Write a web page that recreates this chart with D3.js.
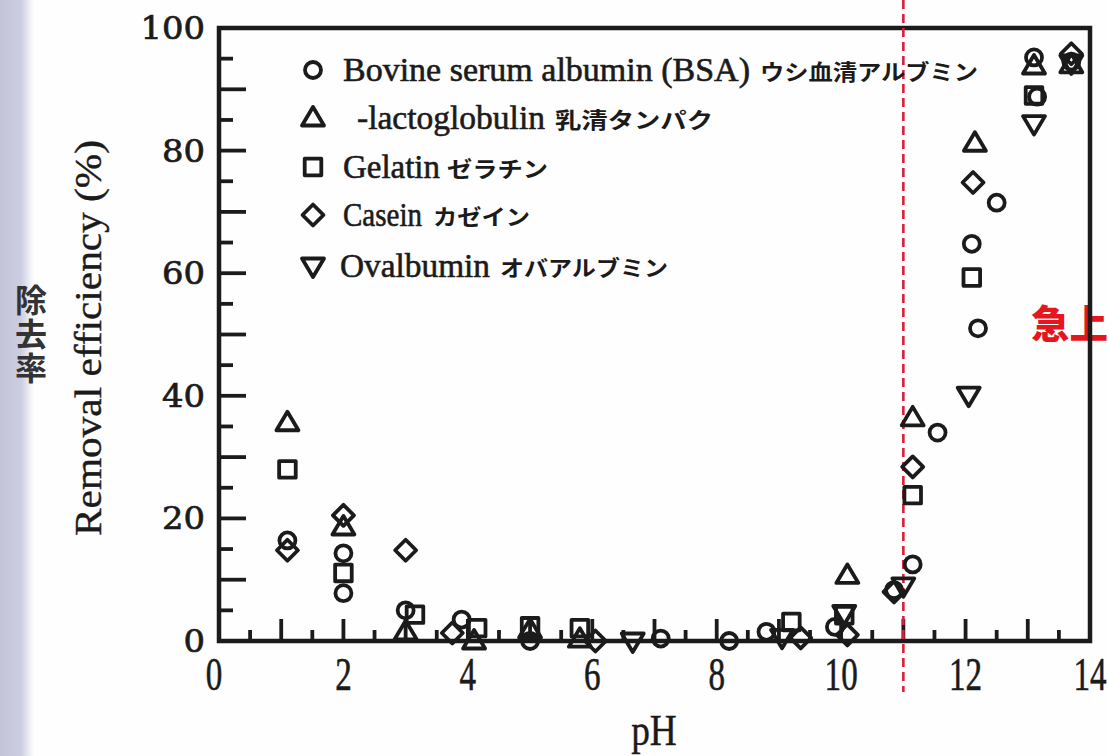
<!DOCTYPE html>
<html><head><meta charset="utf-8">
<script src="https://cdn.jsdelivr.net/npm/d3@7"></script>
<style>body{margin:0;background:#fff;} svg{display:block;}</style>
</head><body><svg id="c" width="1108" height="756"></svg>
<script>
// ---- data ----
const xTickLabels = [0, 2, 4, 6, 8, 10, 12, 14];
const yTickLabels = [0, 20, 40, 60, 80, 100];
const legendEn = ["Bovine serum albumin (BSA)", "-lactoglobulin", "Gelatin", "Casein", "Ovalbumin"];
const legendJa = ["ウシ血清アルブミン", "乳清タンパク", "ゼラチン", "カゼイン", "オバアルブミン"];
const bsa = [[1.1,16.4],[2.0,14.3],[2.0,7.8],[3.0,5.0],[3.9,3.5],[5.0,0],[7.1,0.4],[8.2,0],[8.8,1.5],[9.9,2.3],[10.85,8.3],[11.15,12.5],[11.55,34],[12.1,64.8],[12.2,51],[12.5,71.5],[13.1,95.2],[13.15,88.8],[13.7,94.5]];
const lactoglobulin = [[1.1,35.6],[2.0,18.6],[3.0,1.5],[4.1,0],[5.0,1.8],[5.8,0.3],[10.1,10.7],[11.15,36.4],[12.15,81.2],[13.1,93.8],[13.7,94]];
const gelatin = [[1.1,28],[2.0,11.1],[3.15,4.3],[4.15,2.1],[5.0,2.4],[5.8,2.1],[9.2,3.1],[10.05,4.2],[11.15,23.8],[12.1,59.3],[13.1,89]];
const casein = [[1.1,14.8],[2.0,20.5],[3.0,14.8],[3.75,1.3],[6.05,0],[9.35,0.5],[10.1,1.0],[10.85,8.0],[11.15,28.4],[12.12,74.8],[13.7,95.8]];
const ovalbumin = [[6.65,0],[9.05,0.6],[10.05,4.5],[11.0,9.0],[12.05,40.1],[13.1,84.4],[13.7,94.3]];
const thresholdPH = 11;
const annotation = "急上";
const yTitleJa = "除去率";

// ---- layout ----
const svg = d3.select("#c");
const x = d3.scaleLinear().domain([0, 14]).range([219, 1090]);
const y = d3.scaleLinear().domain([0, 100]).range([641, 28]);
const ink = "#1b1b1b";

// background scan strip
const defs = svg.append("defs");
const g = defs.append("linearGradient").attr("id","strip").attr("x1","0").attr("x2","1");
g.append("stop").attr("offset","0").attr("stop-color","#c3c4d8");
g.append("stop").attr("offset","0.62").attr("stop-color","#cccde0");
g.append("stop").attr("offset","1").attr("stop-color","#ffffff");
svg.append("rect").attr("width",1108).attr("height",756).attr("fill","#fefefe");
svg.append("rect").attr("x",0).attr("y",0).attr("width",34).attr("height",756).attr("fill","url(#strip)");

// symbol types
const sym = {
  circle: {draw(c){ c.moveTo(8,0); c.arc(0,0,8,0,2*Math.PI); }},
  up: {draw(c){ c.moveTo(0,-11); c.lineTo(11,7.5); c.lineTo(-11,7.5); c.closePath(); }},
  square: {draw(c){ c.moveTo(-8.3,-8.3); c.lineTo(8.3,-8.3); c.lineTo(8.3,8.3); c.lineTo(-8.3,8.3); c.closePath(); }},
  diamond: {draw(c){ c.moveTo(0,-10.5); c.lineTo(10.5,0); c.lineTo(0,10.5); c.lineTo(-10.5,0); c.closePath(); }},
  down: {draw(c){ c.moveTo(0,11); c.lineTo(11,-7.5); c.lineTo(-11,-7.5); c.closePath(); }}
};
const seriesList = [
  {data: bsa, type: sym.circle},
  {data: lactoglobulin, type: sym.up},
  {data: gelatin, type: sym.square},
  {data: casein, type: sym.diamond},
  {data: ovalbumin, type: sym.down}
];

// red annotation text (behind frame)
svg.append("text").attr("x", 1031).attr("y", 338)
  .attr("font-family","'Noto Sans CJK JP'").attr("font-weight",900).attr("font-size",38.5)
  .attr("fill","#e6161e").text(annotation);

// ticks (inward)
const tickG = svg.append("g").attr("stroke", ink).attr("stroke-width", 3.8);
const xMajor = d3.range(1, 14, 1), xMinor = d3.range(0.5, 14, 1);
tickG.selectAll(".xM").data(xMajor).join("line")
  .attr("x1", d=>x(d)).attr("x2", d=>x(d)).attr("y1", y(0)).attr("y2", y(0)-22);
tickG.selectAll(".xm").data(xMinor).join("line")
  .attr("x1", d=>x(d)).attr("x2", d=>x(d)).attr("y1", y(0)).attr("y2", y(0)-11);
const yMajor = d3.range(10, 100, 10), yMinor = d3.range(5, 100, 10);
tickG.selectAll(".yM").data(yMajor).join("line")
  .attr("x1", x(0)).attr("x2", x(0)+27).attr("y1", d=>y(d)).attr("y2", d=>y(d));
tickG.selectAll(".ym").data(yMinor).join("line")
  .attr("x1", x(0)).attr("x2", x(0)+14).attr("y1", d=>y(d)).attr("y2", d=>y(d));

// frame
svg.append("rect").attr("x", x(0)).attr("y", y(100)).attr("width", x(14)-x(0)).attr("height", y(0)-y(100))
  .attr("fill","none").attr("stroke", ink).attr("stroke-width", 4.5);

// red dashed line
svg.append("line").attr("x1", x(thresholdPH)).attr("x2", x(thresholdPH)).attr("y1", 0).attr("y2", 692)
  .attr("stroke","#d8203c").attr("stroke-width",2.6).attr("stroke-dasharray","9,5");

// tick labels
svg.selectAll(".yl").data(yTickLabels).join("text")
  .attr("x", 205).attr("y", d=>y(d)+11).attr("text-anchor","end")
  .attr("font-family","'DejaVu Serif'").attr("font-size",31).attr("fill", ink)
  .attr("stroke", ink).attr("stroke-width", 0.7)
  .attr("textLength", d=>String(d).length*21.5).attr("lengthAdjust","spacingAndGlyphs")
  .text(d=>d);
svg.selectAll(".xl").data(xTickLabels).join("text")
  .attr("transform", d=>`translate(${x(d)-(d===0?5:0)},${690}) scale(0.72,1)`)
  .attr("text-anchor","middle")
  .attr("font-family","'Liberation Serif'").attr("font-size",46).attr("fill", ink)
  .attr("stroke", ink).attr("stroke-width", 0.6)
  .text(d=>d);

// axis titles
svg.append("text").attr("transform", `translate(654,745) scale(0.85,1)`).attr("text-anchor","middle")
  .attr("font-family","'Liberation Serif'").attr("font-size",44).attr("fill", ink)
  .attr("stroke", ink).attr("stroke-width", 0.4).text("pH");
svg.append("text").attr("transform", "translate(101,338) rotate(-90)").attr("text-anchor","middle")
  .attr("font-family","'Liberation Serif'").attr("font-size",38).attr("fill", ink)
  .attr("stroke", ink).attr("stroke-width", 0.4)
  .attr("textLength",396).attr("lengthAdjust","spacingAndGlyphs")
  .text("Removal efficiency (%)");
svg.append("text").attr("x", 31).attr("y", 284)
  .attr("writing-mode","vertical-rl").attr("style","writing-mode:vertical-rl")
  .attr("letter-spacing", 2)
  .attr("font-family","'Noto Sans CJK JP'").attr("font-weight",700).attr("font-size",32)
  .attr("fill","#333").text(yTitleJa);

// data marks
const symbolGen = d3.symbol();
seriesList.forEach(s => {
  svg.append("g").selectAll("path").data(s.data).join("path")
    .attr("transform", d=>`translate(${x(d[0])},${y(d[1])})`)
    .attr("d", symbolGen.type(s.type)())
    .attr("fill","none").attr("stroke", ink).attr("stroke-width",3.8).attr("stroke-linejoin","round");
});

// legend
const legRows = [70, 118, 167, 215, 266];
const enX = [343, 357, 343, 343, 340], enW = [407, 188, 97, 79, 150];
const jaX = [760, 555, 447, 433, 500], jaW = [218, 158, 101, 97, 168];
seriesList.forEach((s,i) => {
  svg.append("path").attr("transform", `translate(313,${legRows[i]})`)
    .attr("d", d3.symbol().type(s.type)())
    .attr("fill","none").attr("stroke", ink).attr("stroke-width",3.8).attr("stroke-linejoin","round");
  svg.append("text").attr("x", enX[i]).attr("y", legRows[i]+11)
    .attr("font-family","'Liberation Serif'").attr("font-size",34).attr("fill", ink)
    .attr("stroke", ink).attr("stroke-width", 0.6)
    .attr("textLength", enW[i]).attr("lengthAdjust","spacingAndGlyphs").text(legendEn[i]);
  svg.append("text").attr("x", jaX[i]).attr("y", legRows[i]+10)
    .attr("font-family","'Noto Sans CJK JP'").attr("font-weight",700).attr("font-size",22).attr("fill", ink)
    .attr("textLength", jaW[i]).attr("lengthAdjust","spacingAndGlyphs").text(legendJa[i]);
});
</script></body></html>
